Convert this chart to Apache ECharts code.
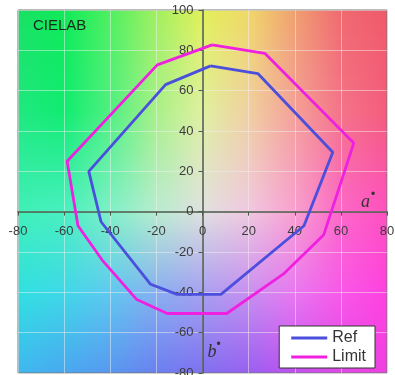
<!DOCTYPE html>
<html><head><meta charset="utf-8">
<script src="https://cdn.jsdelivr.net/npm/echarts/dist/echarts.min.js"></script>
<style>html,body{margin:0;padding:0;background:#fff}#c{width:395px;height:375px}</style>
</head><body><div id="c"></div>
<script>
// ---- data ----
const refA = [3.5, 24, 56.5, 44, 8, -11, -22.5, -44, -49.3, -16, 3.5];
const refB = [72.3, 68.5, 29.5, -7, -41, -41, -36, -5, 20, 63, 72.3];
const limA = [4.2, 27, 65.6, 52.6, 35, 10.5, -15.3, -28.5, -43.5, -54, -58.7, -19.6, 4.2];
const limB = [82.7, 78.5, 34, -11.4, -31, -50.5, -50.5, -43.6, -24, -7, 25, 72.8, 82.7];
const seriesNames = ['Ref', 'Limit'];
const xMin = -80, xMax = 80, xStep = 20;
const yMin = -80, yMax = 100, yStep = 20;

// ---- background colour field (decoration: a*b* plane tint) ----
const bgRowB = [100, 50, 0, -40, -80];
const bgRowColors = [
  ['#18e064','#10ea58','#50f060','#a0f060','#e2f058','#f0d868','#f0a070','#f06a70','#f05a6a'],
  ['#20e880','#10ec70','#50f080','#a8f088','#e0f0a0','#f0d0a0','#f4a098','#f47488','#f45c7c'],
  ['#40f0b8','#48f0c0','#80f0c8','#b8ecd0','#e0e0e0','#f0c8e0','#f8a0d0','#fc68c8','#ff50c0'],
  ['#30e0e0','#40d8e8','#60c8f0','#88b0f0','#a8a0f0','#c890f0','#e878f0','#f858e8','#ff40e0'],
  ['#40b8f0','#48a8f0','#5898f0','#6a80f0','#8070f0','#9860f0','#c050f0','#e048e8','#f040e0']
];

const W = 395, H = 375;
const G = {left: 18, right: 8, top: 10, bottom: 2};
const gw = W - G.left - G.right, gh = H - G.top - G.bottom;
const xZeroOffset = -gh * (0 - yMin) / (yMax - yMin);
const yZeroOffset = -gw * (0 - xMin) / (xMax - xMin);

const chart = echarts.init(document.getElementById('c'), null, {renderer: 'canvas'});
const toPts = (A, B) => A.map((a, i) => [a, B[i]]);

const option = {
  animation: false,
  backgroundColor: '#fff',
  grid: Object.assign({show: true, borderColor: '#777', borderWidth: 1, backgroundColor: 'transparent', containLabel: false, outerBoundsMode: 'none'}, G),
  xAxis: {
    type: 'value', min: xMin, max: xMax, interval: xStep, position: 'bottom', offset: xZeroOffset,
    axisLine: {onZero: false, lineStyle: {color: '#4a5a4a', width: 1.5}},
    axisTick: {show: true, length: 4, lineStyle: {color: '#4a5a4a'}},
    axisLabel: {color: '#3c3c3c', fontSize: 13, margin: 13, fontFamily: 'Liberation Sans'},
    splitLine: {show: true, lineStyle: {color: 'rgba(240,240,240,0.5)', width: 1}}
  },
  yAxis: {
    type: 'value', min: yMin, max: yMax, interval: yStep, position: 'left', offset: yZeroOffset,
    axisLine: {onZero: false, lineStyle: {color: '#4a5a4a', width: 1.5}},
    axisTick: {show: true, length: 4, lineStyle: {color: '#4a5a4a'}},
    axisLabel: {color: '#3c3c3c', fontSize: 13, margin: 9, fontFamily: 'Liberation Sans'},
    splitLine: {show: true, lineStyle: {color: 'rgba(240,240,240,0.5)', width: 1}}
  },
  legend: {
    orient: 'vertical', right: 20, bottom: 7,
    backgroundColor: '#fff', borderColor: '#333', borderWidth: 1,
    padding: [4, 9, 3, 12], itemGap: 3, itemWidth: 36, itemHeight: 3, icon: 'rect',
    textStyle: {fontSize: 16, color: '#333', fontFamily: 'Liberation Sans'},
    data: seriesNames
  },
  series: [
    {name: seriesNames[0], type: 'line', data: toPts(refA, refB), symbol: 'none', color: '#4b4fdc', lineStyle: {width: 2.8}, z: 5},
    {name: seriesNames[1], type: 'line', data: toPts(limA, limB), symbol: 'none', color: '#f020e0', lineStyle: {width: 2.8}, z: 5}
  ]
};
chart.setOption(option);

function hexRgb(h) { return [parseInt(h.slice(1,3),16), parseInt(h.slice(3,5),16), parseInt(h.slice(5,7),16)]; }
function mix(c1, c2, t) { const a = hexRgb(c1), b = hexRgb(c2); return 'rgb(' + a.map((v,i) => Math.round(v + (b[i]-v)*t)).join(',') + ')'; }

const pTL = chart.convertToPixel({gridIndex: 0}, [xMin, yMax]);
const pBR = chart.convertToPixel({gridIndex: 0}, [xMax, yMin]);
const elems = [];
const stripH = 2;
for (let y = pTL[1]; y < pBR[1]; y += stripH) {
  const b = chart.convertFromPixel({gridIndex: 0}, [pTL[0], y + stripH/2])[1];
  let k = 0;
  while (k < bgRowB.length - 2 && b < bgRowB[k+1]) k++;
  const t = Math.min(1, Math.max(0, (bgRowB[k] - b) / (bgRowB[k] - bgRowB[k+1])));
  const n = bgRowColors[k].length;
  const stops = bgRowColors[k].map((c, i) => ({offset: i/(n-1), color: mix(c, bgRowColors[k+1][i], t)}));
  elems.push({type: 'rect', silent: true, z: -10,
    shape: {x: pTL[0], y: y, width: pBR[0]-pTL[0], height: Math.min(stripH + 0.6, pBR[1]-y)},
    style: {fill: {type: 'linear', x: 0, y: 0, x2: 1, y2: 0, colorStops: stops}}});
}
const aPos = chart.convertToPixel({gridIndex: 0}, [xMax, 0]);
const bPos = chart.convertToPixel({gridIndex: 0}, [0, yMin]);
elems.push({type: 'text', z: 10, silent: true, left: 33, top: 18, style: {text: 'CIELAB', fontSize: 15, fill: '#1a2a1a', fontFamily: 'Liberation Sans'}});
elems.push({type: 'text', z: 10, silent: true, x: aPos[0] - 26, y: aPos[1] - 18, style: {text: 'a', fontSize: 18, fontStyle: 'italic', fill: '#333', fontFamily: 'Liberation Serif'}});
elems.push({type: 'text', z: 10, silent: true, x: aPos[0] - 16, y: aPos[1] - 23, style: {text: '•', fontSize: 12, fill: '#333', fontFamily: 'Liberation Sans'}});
elems.push({type: 'text', z: 10, silent: true, x: bPos[0] + 5, y: bPos[1] - 30, style: {text: 'b', fontSize: 18, fontStyle: 'italic', fill: '#333', fontFamily: 'Liberation Serif'}});
elems.push({type: 'text', z: 10, silent: true, x: bPos[0] + 14, y: bPos[1] - 34, style: {text: '•', fontSize: 12, fill: '#333', fontFamily: 'Liberation Sans'}});
chart.setOption({graphic: {elements: elems}});
</script>
</body></html>
